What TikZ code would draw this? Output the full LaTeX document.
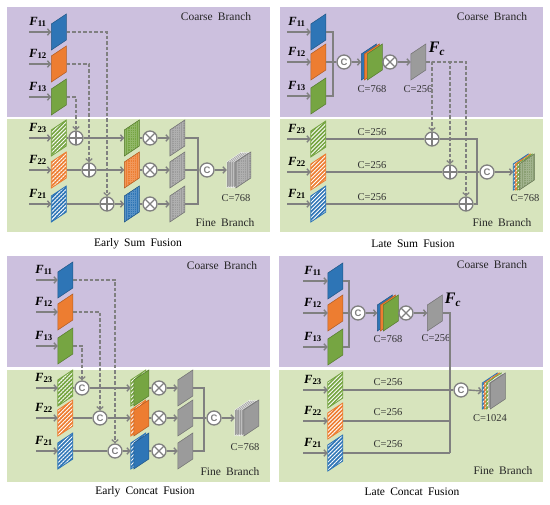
\documentclass[tikz,border=0pt]{standalone}
\usepackage{fontspec}
\setmainfont{Liberation Serif}
\newfontfamily\opfont{Liberation Sans}
\usetikzlibrary{arrows.meta,patterns.meta}
\definecolor{purp}{RGB}{204,192,222}
\definecolor{grn}{RGB}{215,228,189}
\definecolor{lg}{RGB}{128,128,128}
\definecolor{bS}{RGB}{46,117,182}
\definecolor{oS}{RGB}{237,125,49}
\definecolor{gS}{RGB}{118,165,66}
\definecolor{yS}{RGB}{155,155,155}
\tikzset{
  slabnode/.style={rectangle, minimum width=15pt, minimum height=24pt, inner sep=0pt, draw=none},
  solidS/.style={fill=#1, draw=#1!75!black, line width=0.6pt},
  hatchS/.style={preaction={fill=#1}, pattern={Lines[angle=45,distance=2.8pt,line width=0.9pt]}, pattern color=white, draw=#1, line width=0.8pt},
  gridS/.style={preaction={fill=#1}, pattern={Hatch[angle=0,distance=2.2pt,line width=0.3pt]}, pattern color=#1!80!white, draw=#1!75!black, line width=0.6pt},
  graylay/.style={fill=yS, draw=white, line width=0.35pt},
  ln/.style={draw=lg, line width=1.4pt},
  arr/.style={ln, -{Straight Barb[length=3pt,width=6.5pt]}},
  dsh/.style={draw=lg, line width=1.2pt, dash pattern=on 3.5pt off 2pt, -{Straight Barb[length=3pt,width=6.5pt]}},
  opc/.style={circle, draw=lg, fill=white, line width=1.3pt, minimum size=14pt, inner sep=0pt},
  plusop/.style={opc, path picture={\draw[lg, line width=1.3pt] (path picture bounding box.north) -- (path picture bounding box.south) (path picture bounding box.west) -- (path picture bounding box.east);}},
  otimesop/.style={opc, path picture={\draw[lg, line width=1.3pt] (path picture bounding box.north west) -- (path picture bounding box.south east) (path picture bounding box.north east) -- (path picture bounding box.south west);}},
  catop/.style={opc, font=\opfont\bfseries\fontsize{9.5}{9.5}\selectfont, text=lg},
  brl/.style={font=\fontsize{11.5}{13}\selectfont, inner sep=0pt, text=black!85},
  captxt/.style={font=\fontsize{11.5}{13}\selectfont, inner sep=0pt},
  clab/.style={font=\fontsize{10.5}{12}\selectfont, inner sep=0pt, text=black!80},
  flab/.style={font=\fontsize{12.5}{12.5}\selectfont, inner sep=0pt},
  fclab/.style={font=\fontsize{16}{16}\selectfont, inner sep=0pt},
}
\newcommand\layer[3]{\path[shift={(#1.west)}, xshift=#2pt, #3] (0,18) -- (15,8) -- (15,-18) -- (0,-8) -- cycle;}
\newcommand\slab[3]{\node[slabnode] (#1) at (#2) {};\layer{#1}{0}{#3}}
\newcommand\stk[3]{\node[slabnode, minimum width=#3pt] (#1) at (#2) {};}
\newcommand\inp[5]{\coordinate (#1s) at (#2,#3);
  \draw[arr] (#1s) -- (#1.west);
  \node[flab] (#1l) at (#4,#3-10) {\textbf{\textit{F}}\textsubscript{\textbf{#5}}};}
\newcommand\wsp{\hspace{0.45em}}
\begin{document}
\begin{tikzpicture}[x=1pt,y=-1pt]
\fill[white] (0,0) rectangle (550,505);
\useasboundingbox (0,0) rectangle (550,505);
% ================= Panel A: Early Sum Fusion
\fill[purp] (7,7) rectangle (270,117);
\fill[grn] (7,119) rectangle (270,232);
\node[brl] (aCB) at (216,17) {Coarse\wsp Branch};
\node[brl] (aFB) at (225,223) {Fine\wsp Branch};
\node[captxt] (aCap) at (138,244) {Early\wsp Sum\wsp Fusion};
\slab{a11}{59,32}{solidS=bS}
\slab{a12}{59,64}{solidS=oS}
\slab{a13}{59,97}{solidS=gS}
\slab{a23}{59,138}{hatchS=gS}
\slab{a22}{59,170}{hatchS=oS}
\slab{a21}{59,204}{hatchS=bS}
\inp{a11}{29}{32}{38}{11}
\inp{a12}{29}{64}{38}{12}
\inp{a13}{29}{97}{38}{13}
\inp{a23}{29}{138}{38}{23}
\inp{a22}{29}{170}{38}{22}
\inp{a21}{29}{204}{38}{21}
\node[plusop] (ap1) at (76,138) {};
\node[plusop] (ap2) at (89,170) {};
\node[plusop] (ap3) at (107,204) {};
\slab{as23}{132,138}{gridS=gS}
\slab{as22}{132,170}{gridS=oS}
\slab{as21}{132,204}{gridS=bS}
\node[otimesop] (am1) at (150,138) {};
\node[otimesop] (am2) at (150,170) {};
\node[otimesop] (am3) at (150,204) {};
\slab{ag1}{177.5,138}{gridS=yS}
\slab{ag2}{177.5,170}{gridS=yS}
\slab{ag3}{177.5,204}{gridS=yS}
\coordinate (aj1) at (198,138);
\coordinate (aj3) at (198,204);
\node[catop] (ac) at (207,170) {C};
\stk{ast}{239,170}{24}
\layer{ast}{0}{graylay}\layer{ast}{2.25}{graylay}\layer{ast}{4.5}{graylay}\layer{ast}{6.75}{graylay}\layer{ast}{9}{gridS=yS}
\node[clab] (aC) at (236,198) {C=768};
\draw[ln] (a23.east) -- (ap1.west); \draw[arr] (ap1.east) -- (as23.west);
\draw[ln] (a22.east) -- (ap2.west); \draw[arr] (ap2.east) -- (as22.west);
\draw[ln] (a21.east) -- (ap3.west); \draw[arr] (ap3.east) -- (as21.west);
\draw[ln] (as23.east) -- (am1.west); \draw[arr] (am1.east) -- (ag1.west);
\draw[ln] (as22.east) -- (am2.west); \draw[arr] (am2.east) -- (ag2.west);
\draw[ln] (as21.east) -- (am3.west); \draw[arr] (am3.east) -- (ag3.west);
\draw[ln] (ag1.east) -- (aj1) -- (aj3) -- (ag3.east);
\draw[ln] (ag2.east) -- (ac.west);
\draw[arr] (ac.east) -- (ast.west);
\draw[dsh] (a11.east) -| (ap3.north);
\draw[dsh] (a12.east) -| (ap2.north);
\draw[dsh] (a13.east) -| (ap1.north);
% ================= Panel B: Late Sum Fusion
\fill[purp] (280,7) rectangle (543,117);
\fill[grn] (280,119) rectangle (543,232);
\node[brl] (bCB) at (492,17) {Coarse\wsp Branch};
\node[brl] (bFB) at (502,223) {Fine\wsp Branch};
\node[captxt] (bCap) at (413,244) {Late\wsp Sum\wsp Fusion};
\slab{b11}{318.5,32}{solidS=bS}
\slab{b12}{318.5,62}{solidS=oS}
\slab{b13}{318.5,96}{solidS=gS}
\slab{b23}{318.5,139}{hatchS=gS}
\slab{b22}{318.5,172}{hatchS=oS}
\slab{b21}{318.5,204}{hatchS=bS}
\inp{b11}{287}{32}{297}{11}
\inp{b12}{287}{62}{297}{12}
\inp{b13}{287}{96}{297}{13}
\inp{b23}{287}{139}{297}{23}
\inp{b22}{287}{172}{297}{22}
\inp{b21}{287}{204}{297}{21}
\coordinate (bk1) at (333,32);
\coordinate (bk3) at (333,96);
\node[catop] (bc1) at (344,62) {C};
\stk{bst1}{372,62}{21}
\layer{bst1}{0}{solidS=bS}\layer{bst1}{3}{solidS=oS}\layer{bst1}{6}{solidS=gS}
\node[clab] (bC1) at (372,89) {C=768};
\node[otimesop] (bm) at (390,62) {};
\slab{bFc}{418.5,62}{solidS=yS}
\node[fclab] (bFcl) at (437,49) {\textbf{\textit{F}}\textsubscript{\textbf{\textit{c}}}};
\node[clab] (bC2) at (418,89) {C=256};
\node[plusop] (bp1) at (432,139) {};
\node[plusop] (bp2) at (450,172) {};
\node[plusop] (bp3) at (466,204) {};
\coordinate (bj1) at (477,139);
\coordinate (bj3) at (477,204);
\node[catop] (bc2) at (487,172) {C};
\stk{bst2}{524,172}{21}
\layer{bst2}{0}{hatchS=bS}\layer{bst2}{2}{hatchS=oS}\layer{bst2}{4}{hatchS=gS}\layer{bst2}{6}{gridS=gS!45!yS}
\node[clab] (bC3) at (525,198) {C=768};
\node[clab] (bL1) at (372,132) {C=256};
\node[clab] (bL2) at (372,165) {C=256};
\node[clab] (bL3) at (372,197) {C=256};
\draw[ln] (b11.east) -- (bk1) -- (bk3) -- (b13.east);
\draw[ln] (b12.east) -- (bc1.west);
\draw[arr] (bc1.east) -- (bst1.west);
\draw[ln] (bst1.east) -- (bm.west);
\draw[arr] (bm.east) -- (bFc.west);
\draw[dsh] (bFc.east) -| (bp1.north);
\draw[dsh] (bFc.east) -| (bp2.north);
\draw[dsh] (bFc.east) -| (bp3.north);
\draw[ln] (b23.east) -- (bp1.west);
\draw[ln] (bp1.east) -- (bj1) -- (bj3) -- (bp3.east);
\draw[ln] (b21.east) -- (bp3.west);
\draw[ln] (b22.east) -- (bp2.west);
\draw[ln] (bp2.east) -- (bc2.west);
\draw[arr] (bc2.east) -- (bst2.west);
% ================= Panel C: Early Concat Fusion
\fill[purp] (7,256) rectangle (270,367);
\fill[grn] (7,370) rectangle (270,482);
\node[brl] (cCB) at (222,266) {Coarse\wsp Branch};
\node[brl] (cFB) at (230,472) {Fine\wsp Branch};
\node[captxt] (cCap) at (145,492) {Early\wsp Concat\wsp Fusion};
\slab{c11}{65.5,280}{solidS=bS}
\slab{c12}{65.5,312}{solidS=oS}
\slab{c13}{65.5,346}{solidS=gS}
\slab{c23}{65.5,388}{hatchS=gS}
\slab{c22}{65.5,418}{hatchS=oS}
\slab{c21}{65.5,451}{hatchS=bS}
\inp{c11}{36}{280}{44}{11}
\inp{c12}{36}{312}{44}{12}
\inp{c13}{36}{346}{44}{13}
\inp{c23}{36}{388}{44}{23}
\inp{c22}{36}{418}{44}{22}
\inp{c21}{36}{451}{44}{21}
\node[catop] (cq1) at (82,388) {C};
\node[catop] (cq2) at (100,418) {C};
\node[catop] (cq3) at (115,451) {C};
\stk{cs23}{140,388}{18}\layer{cs23}{0}{hatchS=gS}\layer{cs23}{3}{solidS=gS}
\stk{cs22}{140,418}{18}\layer{cs22}{0}{hatchS=oS}\layer{cs22}{3}{solidS=oS}
\stk{cs21}{140,451}{18}\layer{cs21}{0}{hatchS=bS}\layer{cs21}{3}{solidS=bS}
\node[otimesop] (cm1) at (159,388) {};
\node[otimesop] (cm2) at (159,418) {};
\node[otimesop] (cm3) at (159,451) {};
\slab{cg1}{185.5,388}{solidS=yS}
\slab{cg2}{185.5,418}{solidS=yS}
\slab{cg3}{185.5,451}{solidS=yS}
\coordinate (cj1) at (204,388);
\coordinate (cj3) at (204,451);
\node[catop] (cc) at (214,418) {C};
\stk{cst}{247,418}{24}
\layer{cst}{0}{graylay}\layer{cst}{2.25}{graylay}\layer{cst}{4.5}{graylay}\layer{cst}{6.75}{graylay}\layer{cst}{9}{solidS=yS}
\node[clab] (cC) at (245,447) {C=768};
\draw[ln] (c23.east) -- (cq1.west); \draw[arr] (cq1.east) -- (cs23.west);
\draw[ln] (c22.east) -- (cq2.west); \draw[arr] (cq2.east) -- (cs22.west);
\draw[ln] (c21.east) -- (cq3.west); \draw[arr] (cq3.east) -- (cs21.west);
\draw[ln] (cs23.east) -- (cm1.west); \draw[arr] (cm1.east) -- (cg1.west);
\draw[ln] (cs22.east) -- (cm2.west); \draw[arr] (cm2.east) -- (cg2.west);
\draw[ln] (cs21.east) -- (cm3.west); \draw[arr] (cm3.east) -- (cg3.west);
\draw[ln] (cg1.east) -- (cj1) -- (cj3) -- (cg3.east);
\draw[ln] (cg2.east) -- (cc.west);
\draw[arr] (cc.east) -- (cst.west);
\draw[dsh] (c11.east) -| (cq3.north);
\draw[dsh] (c12.east) -| (cq2.north);
\draw[dsh] (c13.east) -| (cq1.north);
% ================= Panel D: Late Concat Fusion
\fill[purp] (279,256) rectangle (543,367);
\fill[grn] (279,370) rectangle (543,482);
\node[brl] (dCB) at (492,265) {Coarse\wsp Branch};
\node[brl] (dFB) at (503,471) {Fine\wsp Branch};
\node[captxt] (dCap) at (412,492) {Late\wsp Concat\wsp Fusion};
\slab{d11}{335.5,281}{solidS=bS}
\slab{d12}{335.5,313}{solidS=oS}
\slab{d13}{335.5,347}{solidS=gS}
\slab{d23}{335.5,390}{hatchS=gS}
\slab{d22}{335.5,421}{hatchS=oS}
\slab{d21}{335.5,453}{hatchS=bS}
\inp{d11}{303}{281}{313}{11}
\inp{d12}{303}{313}{313}{12}
\inp{d13}{303}{347}{313}{13}
\inp{d23}{303}{390}{313}{23}
\inp{d22}{303}{421}{313}{22}
\inp{d21}{303}{453}{313}{21}
\coordinate (dk1) at (349,281);
\coordinate (dk3) at (349,347);
\node[catop] (dc1) at (358,313) {C};
\stk{dst1}{388,313}{21}
\layer{dst1}{0}{solidS=bS}\layer{dst1}{3}{solidS=oS}\layer{dst1}{6}{solidS=gS}
\node[clab] (dC1) at (388,339) {C=768};
\node[otimesop] (dm) at (406,313) {};
\slab{dFc}{435,313}{solidS=yS}
\node[fclab] (dFcl) at (453,300) {\textbf{\textit{F}}\textsubscript{\textbf{\textit{c}}}};
\node[clab] (dC2) at (436,338) {C=256};
\coordinate (dq) at (450,313);
\coordinate (dq2) at (450,421);
\coordinate (dq3) at (450,453);
\node[catop] (dc2) at (461,390) {C};
\stk{dst2}{494,391}{23}
\layer{dst2}{0}{hatchS=bS}\layer{dst2}{2}{hatchS=oS}\layer{dst2}{4}{hatchS=gS}\layer{dst2}{6}{graylay}\layer{dst2}{8}{solidS=yS}
\node[clab] (dC3) at (490,418) {C=1024};
\node[clab] (dL1) at (388,382) {C=256};
\node[clab] (dL2) at (388,412) {C=256};
\node[clab] (dL3) at (388,444) {C=256};
\draw[ln] (d11.east) -- (dk1) -- (dk3) -- (d13.east);
\draw[ln] (d12.east) -- (dc1.west);
\draw[arr] (dc1.east) -- (dst1.west);
\draw[ln] (dst1.east) -- (dm.west);
\draw[arr] (dm.east) -- (dFc.west);
\draw[ln] (dFc.east) -- (dq) -- (dq3);
\draw[ln] (d23.east) -- (dc2.west);
\draw[ln] (d22.east) -- (dq2);
\draw[ln] (d21.east) -- (dq3);
\draw[arr] (dc2.east) -- (dst2.west);
\end{tikzpicture}
\end{document}
